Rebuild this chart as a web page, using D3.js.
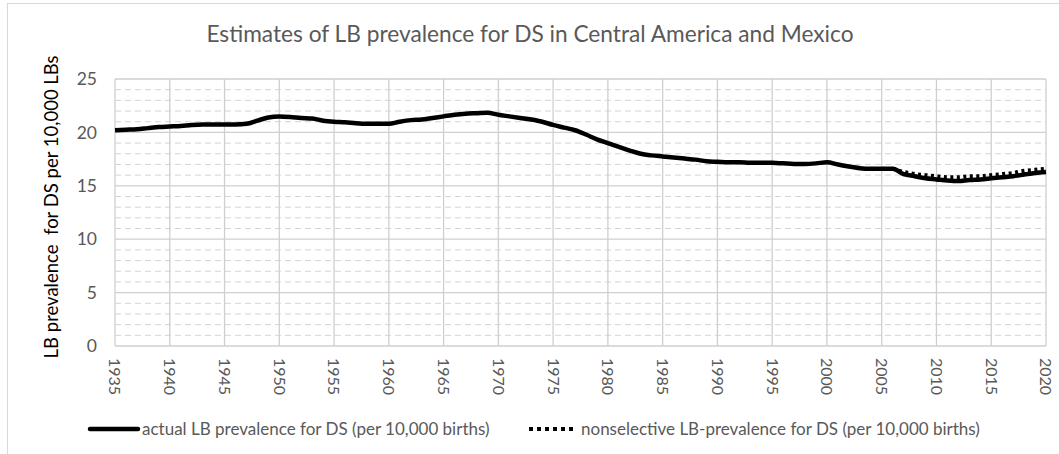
<!DOCTYPE html>
<html>
<head>
<meta charset="utf-8">
<script src="https://cdn.jsdelivr.net/npm/d3@7"></script>
<style>
  body { margin: 0; background: #fff; }
  text { font-family: Lato, "Open Sans", sans-serif; }
</style>
</head>
<body>
<script>
var width = 1059, height = 454;

// years and values
var years = d3.range(1935, 2021);
var actualValues = [
  20.2, 20.25, 20.3, 20.4, 20.5, 20.55, 20.6, 20.7, 20.75, 20.75,
  20.75, 20.75, 20.8, 21.1, 21.4, 21.5, 21.45, 21.35, 21.3, 21.1,
  21.0, 20.95, 20.85, 20.8, 20.8, 20.8, 21.0, 21.15, 21.2, 21.35,
  21.5, 21.65, 21.75, 21.8, 21.85, 21.65, 21.5, 21.35, 21.2, 21.0,
  20.7, 20.45, 20.2, 19.8, 19.35, 19.0, 18.65, 18.3, 18.0, 17.85,
  17.75, 17.65, 17.55, 17.45, 17.3, 17.25, 17.2, 17.2, 17.15, 17.15,
  17.15, 17.1, 17.05, 17.05, 17.1, 17.2, 17.0, 16.8, 16.65, 16.6,
  16.6, 16.6, 16.1, 15.9, 15.7, 15.6, 15.5, 15.45, 15.55, 15.6,
  15.7, 15.8, 15.9, 16.05, 16.2, 16.3
];
var nonselYears = d3.range(2006, 2021);
var nonselValues = [16.6, 16.3, 16.1, 16.0, 15.9, 15.8, 15.8, 15.9, 15.9, 16.0, 16.1, 16.2, 16.4, 16.5, 16.6];

var xTicks = d3.range(1935, 2021, 5);
var yTicks = [0, 5, 10, 15, 20, 25];
var yMinor = d3.range(0, 26, 1).filter(function(d){ return d % 5 != 0; });

var titleText = "Estimates of LB prevalence for DS in Central America and Mexico";
var yTitleText = "LB prevalence  for DS per 10,000 LBs";
var legendNames = ["actual LB prevalence for DS (per 10,000 births)",
                   "nonselective LB-prevalence for DS (per 10,000 births)"];

var svg = d3.select("body").append("svg")
    .attr("width", width)
    .attr("height", height);

// outer chart frame (cut at right/bottom like the source)
svg.append("rect")
    .attr("x", 7.5).attr("y", 3.5)
    .attr("width", 1200).attr("height", 600)
    .attr("fill", "#fff")
    .attr("stroke", "#d9d9d9");

var x = d3.scaleLinear().domain([1935, 2020]).range([115, 1046]);
var y = d3.scaleLinear().domain([0, 25]).range([346, 79]);

var grid = svg.append("g");

// minor horizontal dashed grid
grid.selectAll(".minor")
    .data(yMinor)
    .enter().append("line")
    .attr("x1", x(1935)).attr("x2", x(2020))
    .attr("y1", function(d){ return y(d); })
    .attr("y2", function(d){ return y(d); })
    .attr("stroke", "#d4d4d4")
    .attr("stroke-width", 1)
    .attr("stroke-dasharray", "6 4");

// major horizontal
grid.selectAll(".major")
    .data(yTicks)
    .enter().append("line")
    .attr("x1", x(1935)).attr("x2", x(2020))
    .attr("y1", function(d){ return y(d); })
    .attr("y2", function(d){ return y(d); })
    .attr("stroke", "#cfcfcf")
    .attr("stroke-width", 1.3);

// vertical grid
grid.selectAll(".vert")
    .data(xTicks)
    .enter().append("line")
    .attr("x1", function(d){ return x(d); })
    .attr("x2", function(d){ return x(d); })
    .attr("y1", y(25)).attr("y2", y(0))
    .attr("stroke", "#cfcfcf")
    .attr("stroke-width", 1.3);

// y tick labels
svg.append("g").selectAll("text")
    .data(yTicks)
    .enter().append("text")
    .attr("x", 97)
    .attr("y", function(d){ return y(d); })
    .attr("dy", "0.35em")
    .attr("text-anchor", "end")
    .attr("font-size", "17.5px")
    .attr("fill", "#595959")
    .text(function(d){ return d; });

// x tick labels, rotated
svg.append("g").selectAll("text")
    .data(xTicks)
    .enter().append("text")
    .attr("transform", function(d){ return "translate(" + x(d) + ",358) rotate(90)"; })
    .attr("dy", "0.35em")
    .attr("text-anchor", "start")
    .attr("font-size", "16px")
    .attr("fill", "#595959")
    .text(function(d){ return d; });

var line = d3.line()
    .x(function(d){ return x(d[0]); })
    .y(function(d){ return y(d[1]); })
    .curve(d3.curveMonotoneX);

svg.append("path")
    .datum(d3.zip(years, actualValues))
    .attr("d", line)
    .attr("fill", "none")
    .attr("stroke", "#000")
    .attr("stroke-width", 4.5)
    .attr("stroke-linejoin", "round");

svg.append("path")
    .datum(d3.zip(nonselYears, nonselValues))
    .attr("d", line)
    .attr("fill", "none")
    .attr("stroke", "#000")
    .attr("stroke-width", 4)
    .attr("stroke-dasharray", "3 3.5");

// titles
svg.append("text")
    .attr("x", 530).attr("y", 42)
    .attr("text-anchor", "middle")
    .attr("font-size", "22.7px")
    .attr("fill", "#595959")
    .text(titleText);

svg.append("text")
    .attr("transform", "translate(58,207) rotate(-90)")
    .attr("text-anchor", "middle")
    .attr("font-size", "18.5px")
    .attr("fill", "#000")
    .style("white-space", "pre")
    .text(yTitleText);

// legend
var legendX = [90, 529];
var legend = svg.append("g").selectAll("g")
    .data(legendNames)
    .enter().append("g")
    .attr("transform", function(d, i){ return "translate(" + legendX[i] + ",429)"; });

legend.append("line")
    .attr("x1", 0).attr("x2", 48)
    .attr("y1", 0).attr("y2", 0)
    .attr("stroke", "#000")
    .attr("stroke-width", function(d, i){ return i == 0 ? 4.5 : 4; })
    .attr("stroke-linecap", function(d, i){ return i == 0 ? "round" : "butt"; })
    .attr("stroke-dasharray", function(d, i){ return i == 0 ? null : "4 4"; });

legend.append("text")
    .attr("x", 52)
    .attr("y", 0)
    .attr("dy", "0.35em")
    .attr("font-size", "17px")
    .attr("fill", "#595959")
    .text(function(d){ return d; });
</script>
</body>
</html>
